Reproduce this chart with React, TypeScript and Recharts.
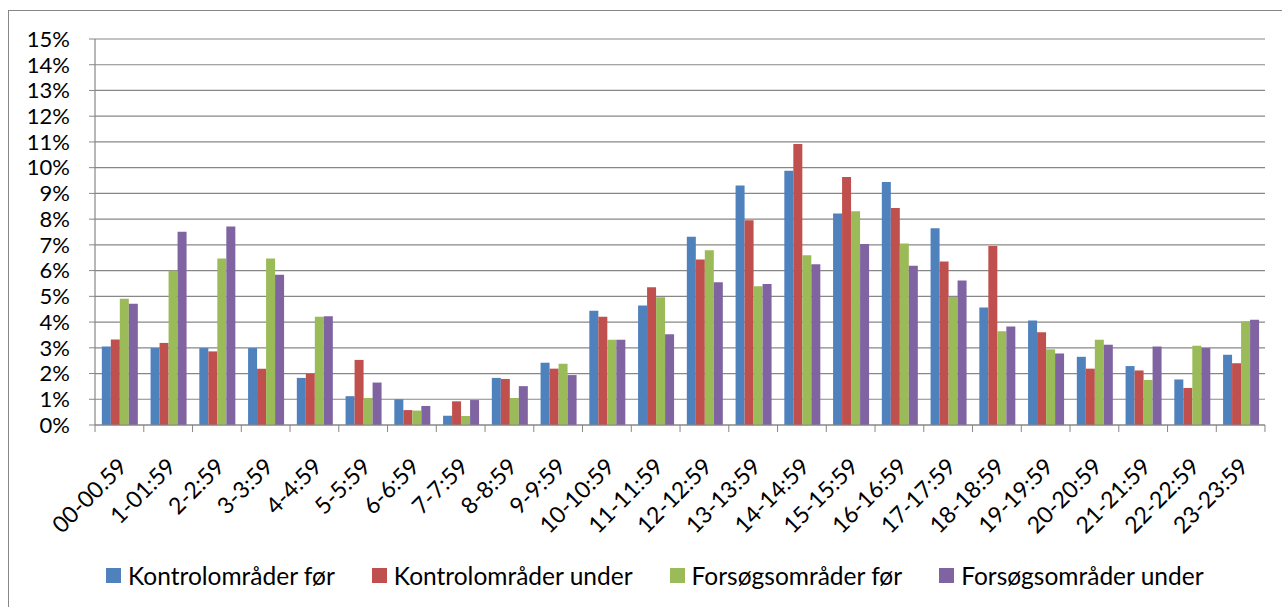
import { Bar, BarChart, CartesianGrid, XAxis, YAxis } from "recharts"

const hours = [
    "00-00.59", "1-01:59", "2-2:59", "3-3:59", "4-4:59", "5-5:59", "6-6:59", "7-7:59",
    "8-8:59", "9-9:59", "10-10:59", "11-11:59", "12-12:59", "13-13:59", "14-14:59", "15-15:59",
    "16-16:59", "17-17:59", "18-18:59", "19-19:59", "20-20:59", "21-21:59", "22-22:59", "23-23:59",
]

const kontrolFoer = [3.05, 2.99, 2.99, 2.99, 1.83, 1.12, 1.0, 0.36, 1.83, 2.42, 4.44, 4.64, 7.32, 9.31, 9.88, 8.22, 9.44, 7.65, 4.57, 4.06, 2.65, 2.29, 1.77, 2.73]
const kontrolUnder = [3.32, 3.19, 2.86, 2.19, 1.99, 2.53, 0.58, 0.92, 1.79, 2.19, 4.21, 5.35, 6.43, 7.96, 10.92, 9.64, 8.43, 6.35, 6.96, 3.6, 2.19, 2.12, 1.44, 2.4]
const forsoegFoer = [4.91, 5.99, 6.47, 6.47, 4.21, 1.05, 0.56, 0.35, 1.05, 2.38, 3.31, 4.96, 6.79, 5.39, 6.6, 8.31, 7.05, 4.97, 3.64, 2.94, 3.31, 1.75, 3.08, 4.03]
const forsoegUnder = [4.71, 7.51, 7.71, 5.84, 4.23, 1.65, 0.74, 0.97, 1.51, 1.94, 3.31, 3.53, 5.55, 5.48, 6.25, 7.03, 6.19, 5.62, 3.83, 2.78, 3.12, 3.05, 2.99, 4.09]

const yTicks = [0, 1, 2, 3, 4, 5, 6, 7, 8, 9, 10, 11, 12, 13, 14, 15]

const series = [
    { key: "kf", name: "Kontrolområder før", color: "#4F81BD", values: kontrolFoer },
    { key: "ku", name: "Kontrolområder under", color: "#C0504D", values: kontrolUnder },
    { key: "ff", name: "Forsøgsområder før", color: "#9BBB59", values: forsoegFoer },
    { key: "fu", name: "Forsøgsområder under", color: "#8064A2", values: forsoegUnder },
]

const data = hours.map((hour, i) => {
    const row: { [key: string]: string | number } = { hour }
    series.forEach((s) => { row[s.key] = s.values[i] })
    return row
})

const FONT = "Lato, 'Open Sans', sans-serif"
const GRID = "#878787"
const CHART_W = 1274
const CHART_H = 597
const PLOT_W = 1168
const BAND = PLOT_W / hours.length

//x tick: boundary tick marks plus a rotated label
function HourTick(props: any) {
    const { x, y, payload, index } = props
    const half = BAND / 2
    const lx = x + 9
    const ly = y + 43
    return (
        <g>
            <line x1={x - half} y1={y} x2={x - half} y2={y + 7} stroke={GRID} />
            {index === hours.length - 1 && (
                <line x1={x + half} y1={y} x2={x + half} y2={y + 7} stroke={GRID} />
            )}
            <text
                x={lx}
                y={ly}
                textAnchor="end"
                transform={`rotate(-45, ${lx}, ${ly})`}
                fontSize={23}
                fontFamily={FONT}
                fill="#000"
            >
                {payload.value}
            </text>
        </g>
    )
}

export default function App() {
    return (
        <div
            style={{
                position: "absolute",
                left: 8,
                top: 10,
                width: CHART_W,
                height: CHART_H,
                borderTop: `1px solid ${GRID}`,
                borderLeft: `1px solid ${GRID}`,
                boxSizing: "border-box",
                fontFamily: FONT,
                overflow: "hidden",
            }}
        >
            <BarChart
                width={CHART_W}
                height={CHART_H}
                data={data}
                margin={{ top: 29, right: 17, bottom: 0, left: -1 }}
                barCategoryGap="14%"
                barGap={0}
                style={{ position: "absolute", left: -1, top: -1 }}
            >
                <CartesianGrid vertical={false} stroke={GRID} strokeWidth={1.2} />
                <XAxis
                    dataKey="hour"
                    interval={0}
                    height={182}
                    tickSize={0}
                    tickMargin={0}
                    axisLine={{ stroke: GRID, strokeWidth: 1.2 }}
                    tick={<HourTick />}
                />
                <YAxis
                    width={88}
                    domain={[0, 15]}
                    ticks={yTicks}
                    interval={0}
                    tickFormatter={(v: number) => `${v}%`}
                    tickSize={6}
                    tickMargin={19}
                    axisLine={{ stroke: GRID, strokeWidth: 1.2 }}
                    tickLine={{ stroke: GRID }}
                    tick={{ fill: "#000", fontSize: 22, fontFamily: FONT }}
                />
                {series.map((s) => (
                    <Bar key={s.key} dataKey={s.key} name={s.name} fill={s.color} isAnimationActive={false} />
                ))}
            </BarChart>
            <div
                style={{
                    position: "absolute",
                    left: 97,
                    top: 550,
                    height: 28,
                    display: "flex",
                    alignItems: "center",
                    gap: 37,
                    fontSize: 24.5,
                    color: "#000",
                    whiteSpace: "nowrap",
                }}
            >
                {series.map((s) => (
                    <div key={s.key} style={{ display: "flex", alignItems: "center", gap: 7 }}>
                        <span style={{ width: 15, height: 15, background: s.color, display: "inline-block" }} />
                        <span>{s.name}</span>
                    </div>
                ))}
            </div>
        </div>
    )
}
